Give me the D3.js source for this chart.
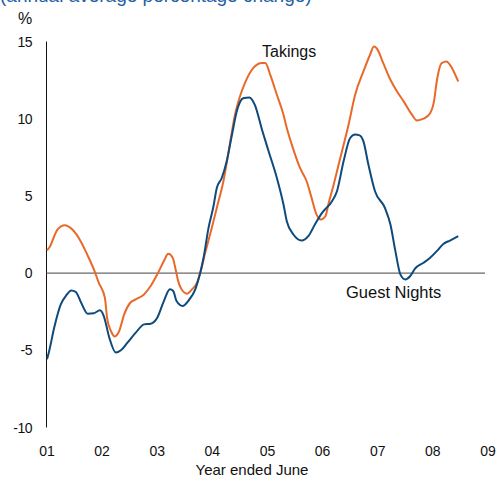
<!DOCTYPE html>
<html>
<head>
<meta charset="utf-8">
<script src="https://cdn.jsdelivr.net/npm/d3@7"></script>
<style>
  body { margin: 0; background: #fff; }
  text { font-family: "Liberation Sans", Arial, sans-serif; }
</style>
</head>
<body>
<script>
// years after the "01" tick
const takingsTime = [0.00, 0.04, 0.19, 0.32, 0.46, 0.61, 0.73, 0.85, 0.94, 1.05, 1.09, 1.16, 1.23, 1.31, 1.40, 1.51, 1.61, 1.76, 1.88, 2.00, 2.12, 2.20, 2.28, 2.34, 2.38, 2.44, 2.54, 2.63, 2.72, 2.78, 2.87, 2.99, 3.08, 3.20, 3.32, 3.41, 3.50, 3.59, 3.74, 3.90, 3.96, 4.05, 4.17, 4.29, 4.35, 4.47, 4.59, 4.71, 4.80, 4.89, 4.97, 5.05, 5.11, 5.20, 5.32, 5.47, 5.59, 5.74, 5.86, 5.93, 5.98, 6.10, 6.23, 6.35, 6.47, 6.62, 6.71, 6.83, 6.95, 7.02, 7.07, 7.16, 7.25, 7.31, 7.46];
const takings = [1.47, 1.64, 2.82, 3.1, 2.82, 2.07, 1.2, 0.24, -0.63, -1.6, -2.9, -3.75, -4.1, -3.75, -2.67, -1.92, -1.7, -1.38, -0.84, -0.08, 0.78, 1.25, 1.0, 0.13, -0.52, -1.05, -1.33, -1.05, -0.63, 0.02, 1.31, 2.93, 4.22, 5.95, 8.42, 10.26, 11.44, 12.3, 13.27, 13.6, 13.6, 12.84, 11.55, 10.26, 9.39, 8.0, 6.81, 5.95, 4.87, 3.79, 3.47, 3.68, 4.54, 5.73, 7.45, 9.61, 11.55, 13.06, 14.14, 14.67, 14.56, 13.6, 12.52, 11.76, 11.12, 10.26, 9.89, 10.0, 10.36, 11.12, 12.41, 13.6, 13.7, 13.49, 12.41];

const nightsTime = [0.00, 0.04, 0.13, 0.25, 0.34, 0.44, 0.52, 0.62, 0.74, 0.85, 0.96, 1.03, 1.13, 1.25, 1.34, 1.46, 1.61, 1.76, 1.88, 2.00, 2.12, 2.23, 2.29, 2.35, 2.46, 2.56, 2.69, 2.78, 2.84, 2.93, 3.02, 3.08, 3.17, 3.26, 3.35, 3.45, 3.56, 3.67, 3.77, 3.90, 4.02, 4.17, 4.29, 4.35, 4.47, 4.62, 4.74, 4.86, 4.99, 5.17, 5.26, 5.38, 5.50, 5.59, 5.67, 5.74, 5.83, 5.95, 6.13, 6.23, 6.32, 6.41, 6.50, 6.59, 6.68, 6.83, 6.95, 7.07, 7.19, 7.31, 7.46];
const guestNights = [-5.58, -5.04, -3.54, -2.02, -1.49, -1.12, -1.21, -1.92, -2.63, -2.6, -2.41, -2.78, -4.18, -5.15, -5.0, -4.5, -3.86, -3.32, -3.28, -2.89, -1.81, -1.05, -1.16, -1.81, -2.13, -1.81, -1.05, 0.02, 0.99, 2.93, 4.33, 5.51, 6.16, 7.24, 8.86, 10.58, 11.33, 11.38, 10.9, 9.29, 7.89, 6.16, 4.44, 3.36, 2.5, 2.11, 2.39, 3.15, 3.9, 4.65, 5.3, 7.24, 8.75, 8.97, 8.92, 8.53, 7.03, 5.3, 4.22, 3.15, 1.42, -0.08, -0.41, -0.19, 0.3, 0.67, 0.99, 1.42, 1.89, 2.11, 2.39];

const xTickLabels = ["01", "02", "03", "04", "05", "06", "07", "08", "09"];
const yTicks = [-10, -5, 0, 5, 10, 15];

const svg = d3.select("body").append("svg").attr("width", 502).attr("height", 480);

const x = d3.scaleLinear().domain([0, 8]).range([47, 488]);
const y = d3.scaleLinear().domain([-10, 15]).range([427.5, 41.5]);

// title, cut off at the top edge like in the original
svg.append("text").text("(annual average percentage change)")
  .attr("x", 0).attr("y", 2).attr("font-size", 19).attr("fill", "#1f5fa6");

svg.append("text").text("%").attr("x", 18).attr("y", 24).attr("font-size", 16).attr("fill", "#111");

// y axis
svg.append("line").attr("x1", 46.5).attr("x2", 46.5).attr("y1", y(15)).attr("y2", y(-10))
  .attr("stroke", "#111").attr("stroke-width", 1);
svg.selectAll(".ylab").data(yTicks).enter().append("text").attr("class", "ylab")
  .text(d => d).attr("x", 32).attr("y", d => y(d) + 5)
  .attr("text-anchor", "end").attr("font-size", 14).attr("letter-spacing", -0.5).attr("fill", "#111");

// zero line
svg.append("line").attr("x1", 46).attr("x2", 485).attr("y1", y(0)).attr("y2", y(0))
  .attr("stroke", "#444").attr("stroke-width", 1);

// x labels
svg.selectAll(".xlab").data(xTickLabels).enter().append("text").attr("class", "xlab")
  .text(d => d).attr("x", (d, i) => x(i)).attr("y", 456)
  .attr("text-anchor", "middle").attr("font-size", 14).attr("fill", "#111");
svg.append("text").text("Year ended June").attr("x", 252).attr("y", 475)
  .attr("text-anchor", "middle").attr("font-size", 15).attr("fill", "#111");

const line = d3.line().x(d => x(d[0])).y(d => y(d[1])).curve(d3.curveMonotoneX);

svg.append("path").datum(d3.zip(takingsTime, takings)).attr("d", line)
  .attr("fill", "none").attr("stroke", "#e8692a").attr("stroke-width", 2);
svg.append("path").datum(d3.zip(nightsTime, guestNights)).attr("d", line)
  .attr("fill", "none").attr("stroke", "#0e4a7c").attr("stroke-width", 2);

svg.append("text").text("Takings").attr("x", 262).attr("y", 57).attr("font-size", 16).attr("fill", "#111");
svg.append("text").text("Guest Nights").attr("x", 346).attr("y", 298).attr("font-size", 16.5).attr("fill", "#111");
</script>
</body>
</html>
